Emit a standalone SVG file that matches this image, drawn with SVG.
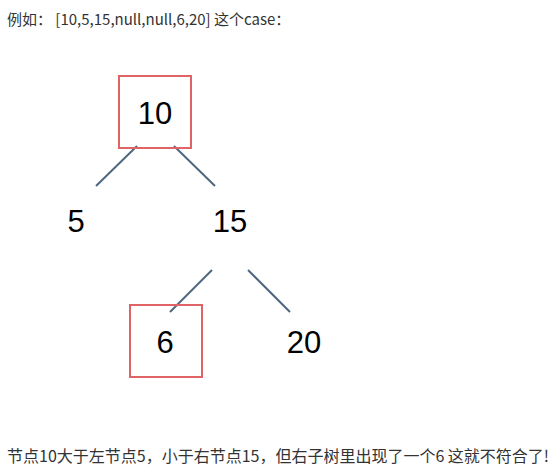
<svg xmlns="http://www.w3.org/2000/svg" width="554" height="469" viewBox="0 0 554 469">
<style>
.cap{font-family:"Noto Sans CJK SC","Noto Sans",sans-serif;fill:#333333}
.num{font-family:"Liberation Sans",Arial,sans-serif;font-size:31px;fill:#000000;text-anchor:middle}
.box{fill:none;stroke:#e06466;stroke-width:2}
.edge{stroke:#4d6780;stroke-width:2;fill:none}
</style>
<rect width="554" height="469" fill="#ffffff"/>
<text class="cap" x="7" y="25" font-size="15" xml:space="preserve">例如： [10,5,15,null,null,6,20] 这个case：</text>
<g id="connectors">
<line class="edge" x1="137" y1="146" x2="96" y2="186"/>
<line class="edge" x1="174" y1="146" x2="215" y2="186"/>
<line class="edge" x1="212" y1="270" x2="170" y2="312"/>
<line class="edge" x1="248" y1="270" x2="290" y2="312"/>
</g>
<g id="n10"><rect class="box" x="119" y="76" width="72" height="72"/><text class="num" x="155" y="124">10</text></g>
<g id="n5"><text class="num" x="76" y="232">5</text></g>
<g id="n15"><text class="num" x="230" y="232">15</text></g>
<g id="n6"><rect class="box" x="130" y="305" width="72" height="72"/><text class="num" x="165" y="353">6</text></g>
<g id="n20"><text class="num" x="304" y="353">20</text></g>
<text class="cap" x="7" y="462" font-size="16">节点10大于左节点5，小于右节点15，但右子树里出现了一个6 这就不符合了!</text>
</svg>
